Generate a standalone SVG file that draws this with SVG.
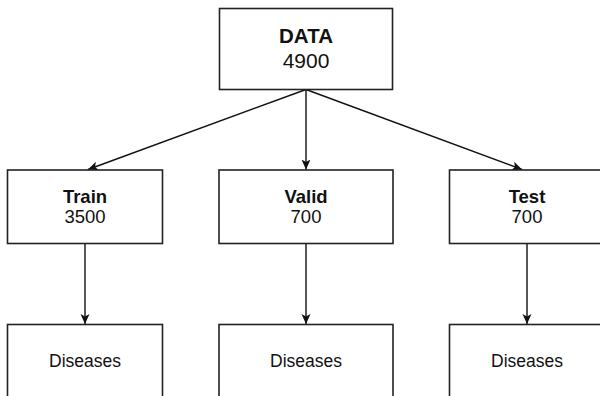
<svg xmlns="http://www.w3.org/2000/svg" width="600" height="396" viewBox="0 0 600 396">
<defs>
<marker id="ah" markerWidth="12" markerHeight="12" refX="10" refY="5.5" orient="auto" markerUnits="userSpaceOnUse">
<path d="M0,1 L10,5.5 L0,10 L2.5,5.5 Z" fill="#111"/>
</marker>
<style>
.box{fill:#fff;stroke:#222;stroke-width:1.6}
.t{font-family:"Liberation Sans",Arial,sans-serif;fill:#111;text-anchor:middle}
.b{font-weight:bold}
.c{fill:none;stroke:#111;stroke-width:1.4;marker-end:url(#ah)}
</style>
</defs>
<rect width="600" height="396" fill="#fff"/>
<g id="connectors">
<line class="c" x1="306" y1="89.5" x2="88" y2="169.5"/>
<line class="c" x1="306" y1="89.5" x2="306" y2="169.5"/>
<line class="c" x1="306" y1="89.5" x2="522" y2="169.5"/>
<line class="c" x1="85" y1="243.5" x2="85" y2="324"/>
<line class="c" x1="306" y1="243.5" x2="306" y2="324"/>
<line class="c" x1="527" y1="243.5" x2="527" y2="324"/>
</g>
<g id="data">
<rect class="box" x="219.5" y="8.5" width="173" height="81"/>
<text class="t b" x="306" y="43.3" font-size="20.5">DATA</text>
<text class="t" x="306" y="68.3" font-size="21">4900</text>
</g>
<g id="train">
<rect class="box" x="7.5" y="170" width="155" height="73.5"/>
<text class="t b" x="85" y="203.3" font-size="18.5">Train</text>
<text class="t" x="85" y="223.3" font-size="18.5">3500</text>
</g>
<g id="valid">
<rect class="box" x="219" y="170" width="174" height="73.5"/>
<text class="t b" x="306" y="203.3" font-size="18.5">Valid</text>
<text class="t" x="306" y="223.3" font-size="18.5">700</text>
</g>
<g id="test">
<rect class="box" x="449.5" y="170" width="155" height="73.5"/>
<text class="t b" x="527" y="203.3" font-size="18.5">Test</text>
<text class="t" x="527" y="223.3" font-size="18.5">700</text>
</g>
<g id="diseases-train">
<rect class="box" x="7.5" y="324.5" width="155" height="80"/>
<text class="t" x="85" y="366.7" font-size="17.5">Diseases</text>
</g>
<g id="diseases-valid">
<rect class="box" x="219" y="324.5" width="174" height="80"/>
<text class="t" x="306" y="366.7" font-size="17.5">Diseases</text>
</g>
<g id="diseases-test">
<rect class="box" x="449.5" y="324.5" width="155" height="80"/>
<text class="t" x="527" y="366.7" font-size="17.5">Diseases</text>
</g>
</svg>
